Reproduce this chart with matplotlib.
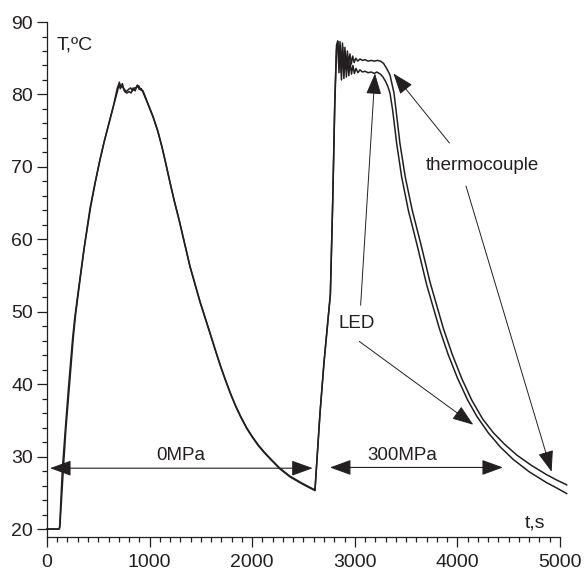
import numpy as np
import matplotlib
matplotlib.use("Agg")
import matplotlib.pyplot as plt
from matplotlib.ticker import MultipleLocator

plt.rcParams['font.family'] = ['Liberation Sans', 'DejaVu Sans']

# LED sensor trace (s, degC)
t_led = [0, 120, 126, 160, 185, 220, 257, 279, 315, 364, 426, 470, 517, 560, 604, 650,
         690, 705, 720, 735, 750, 765, 780, 800, 820, 840, 860, 880, 900, 920, 936,
         980, 1033, 1080, 1121, 1160, 1199, 1240, 1290, 1394, 1490, 1589, 1640, 1690,
         1740, 1790, 1840, 1890, 1946, 2000, 2060, 2120, 2173, 2270, 2368, 2490, 2612,
         2661, 2700, 2762, 2785, 2805, 2822, 2836, 2846, 2858, 2870, 2882, 2894, 2906,
         2918, 2930, 2942, 2955, 2968, 2982, 2996, 3012, 3030, 3050, 3075, 3100, 3130,
         3160, 3190, 3215, 3250, 3275, 3300, 3322, 3343, 3369, 3408, 3457, 3522, 3603,
         3701, 3824, 3910, 3999, 4100, 4188, 4300, 4420, 4545, 4700, 4870, 4970, 5065]
T_led = [20, 20, 20.3, 28.4, 33.9, 40.0, 46.5, 49.6, 53.6, 58.9, 64.5, 67.8, 71.0, 73.6, 76.0, 78.5,
         80.6, 81.7, 81.0, 81.5, 80.6, 80.3, 80.2, 80.4, 80.2, 80.9, 80.5, 81.3, 80.7, 80.8, 80.3,
         78.8, 76.9, 74.9, 72.7, 70.3, 67.8, 65.3, 62.5, 56.2, 51.4, 47.0, 44.7, 42.5,
         40.5, 38.6, 36.9, 35.4, 33.9, 32.7, 31.5, 30.5, 29.7, 28.3, 27.2, 26.2, 25.3,
         36.0, 43.0, 52.4, 65.0, 78.5, 86.2, 87.2, 83.0, 86.8, 82.0, 86.6, 82.2, 85.9,
         82.4, 85.2, 82.6, 84.5, 82.8, 84.0, 82.9, 83.6, 83.0, 83.4, 83.1, 83.2, 83.0,
         83.1, 82.9, 83.1, 82.8, 82.4, 81.8, 81.1, 80.2, 77.85, 73.25, 68.6, 64.0, 59.45,
         53.7, 47.7, 44.1, 40.9, 37.8, 35.6, 33.3, 31.3, 29.6, 27.9, 26.4, 25.65, 24.9]

# thermocouple trace (s, degC)
t_tc = [0, 118, 124, 150, 178, 212, 250, 272, 310, 360, 420, 466, 512, 556, 600, 646,
        686, 700, 715, 730, 745, 760, 775, 795, 815, 835, 855, 875, 895, 915, 936,
        980, 1033, 1080, 1121, 1160, 1199, 1240, 1290, 1394, 1490, 1589, 1640, 1690,
        1740, 1790, 1840, 1890, 1946, 2000, 2060, 2120, 2173, 2270, 2368, 2490, 2612,
        2661, 2700, 2762, 2785, 2805, 2822, 2834, 2844, 2856, 2868, 2880, 2892, 2904,
        2916, 2928, 2940, 2953, 2966, 2980, 2994, 3010, 3030, 3050, 3075, 3100, 3130,
        3160, 3190, 3220, 3250, 3280, 3310, 3343, 3382, 3402, 3440, 3492, 3560, 3642,
        3733, 3863, 3950, 4045, 4140, 4246, 4350, 4460, 4580, 4720, 4870, 4970, 5065]
T_tc = [20, 20, 20.4, 28.2, 33.6, 39.9, 46.3, 49.3, 53.4, 58.6, 64.3, 67.6, 70.7, 73.4, 75.8, 78.3,
        80.9, 81.4, 80.8, 81.2, 80.9, 80.6, 80.4, 80.7, 80.9, 80.5, 80.9, 81.0, 81.2, 80.6, 80.5,
        78.9, 77.0, 75.0, 72.8, 70.4, 67.9, 65.4, 62.6, 56.3, 51.5, 47.1, 44.8, 42.6,
        40.6, 38.7, 37.0, 35.5, 34.0, 32.8, 31.6, 30.6, 29.8, 28.4, 27.3, 26.3, 25.4,
        36.0, 43.0, 52.4, 65.5, 79.0, 86.8, 87.4, 84.0, 87.3, 83.0, 87.1, 83.3, 86.5,
        83.6, 86.0, 84.0, 85.6, 84.2, 85.3, 84.4, 85.0, 84.6, 84.9, 84.7, 84.8, 84.6,
        84.7, 84.6, 84.7, 84.6, 84.3, 83.6, 82.7, 80.2, 77.85, 73.25, 68.6, 64.0, 59.45,
        54.1, 47.7, 44.1, 40.7, 37.8, 35.2, 33.3, 31.7, 30.2, 28.8, 27.5, 26.75, 26.1]

ink = '#231f20'
fig = plt.figure(figsize=(5.87, 5.72), dpi=100)
ax = fig.add_axes([0.080, 0.0612, 0.874, 0.9003])

ax.plot(t_tc, T_tc, color=ink, lw=1.1, clip_on=False)
ax.plot(t_led, T_led, color=ink, lw=1.1, clip_on=False)

ax.set_xlim(0, 5000)
ax.set_ylim(18.9, 90)
for s in ['top', 'right']:
    ax.spines[s].set_visible(False)
for s in ['left', 'bottom']:
    ax.spines[s].set_color(ink)
    ax.spines[s].set_linewidth(0.9)
ax.xaxis.set_major_locator(MultipleLocator(1000))
ax.xaxis.set_minor_locator(MultipleLocator(100))
ax.yaxis.set_major_locator(MultipleLocator(10))
ax.yaxis.set_minor_locator(MultipleLocator(2))
ax.set_yticks(np.arange(20, 91, 10))
ax.tick_params(which='major', direction='out', length=7, width=0.9, color=ink,
               labelsize=14, labelcolor=ink)
ax.tick_params(which='minor', direction='out', length=3.5, width=0.9, color=ink)
ax.tick_params(axis='x', which='major', pad=5)
ax.tick_params(axis='y', which='major', pad=3)

ax.text(97, 86.8, 'T,ºC', fontsize=14, color=ink, ha='left', va='center')
ax.text(4854, 20.8, 't,s', fontsize=14, color=ink, ha='right', va='center')

# labels and arrows
hs = '<|-|>,head_length=0.55,head_width=0.2'
ss = '-|>,head_length=0.55,head_width=0.2'
ax.annotate('', xy=(30, 28.4), xytext=(2590, 28.4),
            arrowprops=dict(arrowstyle=hs, mutation_scale=24, lw=0.8, color=ink,
                            shrinkA=0, shrinkB=0))
ax.annotate('', xy=(2758, 28.5), xytext=(4444, 28.5),
            arrowprops=dict(arrowstyle=hs, mutation_scale=24, lw=0.8, color=ink,
                            shrinkA=0, shrinkB=0))
ax.text(1300, 30.1, '0MPa', fontsize=13.5, color=ink, ha='center', va='center')
ax.text(3460, 30.1, '300MPa', fontsize=13.5, color=ink, ha='center', va='center')

ax.text(4245, 70.25, 'thermocouple', fontsize=13.5, color=ink, ha='center', va='center')
ax.text(3018, 48.4, 'LED', fontsize=13.5, color=ink, ha='center', va='center')

arrows = [((3922, 73.3), (3376, 82.9)),
          ((4084, 67.35), (4918, 27.9)),
          ((3057, 50.9), (3197, 82.9)),
          ((3044, 45.9), (4155, 34.4))]
for start, tip in arrows:
    ax.annotate('', xy=tip, xytext=start,
                arrowprops=dict(arrowstyle=ss, mutation_scale=24, lw=0.7, color=ink,
                                shrinkA=0, shrinkB=0))

fig.savefig('out.png', dpi=100)
